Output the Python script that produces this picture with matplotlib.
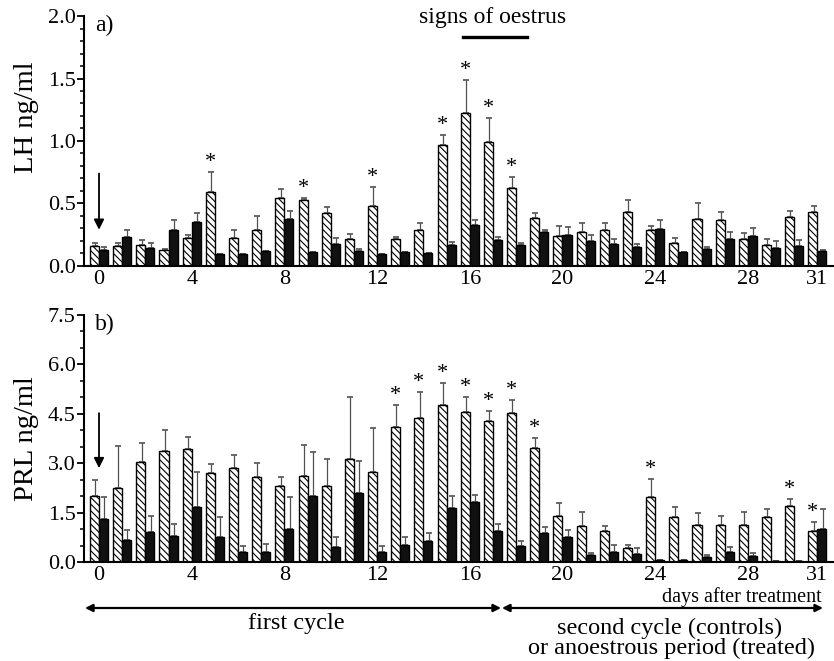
import matplotlib
matplotlib.use("Agg")
import matplotlib.pyplot as plt
from matplotlib.ticker import MultipleLocator, FormatStrFormatter
import numpy as np

plt.rcParams['font.family'] = ['Liberation Serif', 'DejaVu Serif']
plt.rcParams['hatch.linewidth'] = 0.8

days = list(range(32))
xtick_vals = [0, 4, 8, 12, 16, 20, 24, 28, 31]

# LH (ng/ml): hatched = controls, black = treated
lh_ctrl = [0.157, 0.157, 0.17, 0.13, 0.225, 0.595, 0.225, 0.285, 0.547, 0.525, 0.42, 0.216,
           0.483, 0.216, 0.285, 0.97, 1.22, 0.99, 0.627, 0.387, 0.237, 0.27, 0.285, 0.43,
           0.285, 0.187, 0.376, 0.365, 0.216, 0.165, 0.39, 0.43]
lh_ctrl_sem = [0.023, 0.023, 0.035, 0.005, 0.025, 0.155, 0.06, 0.115, 0.068, 0.022, 0.055, 0.037,
               0.149, 0.014, 0.059, 0.08, 0.27, 0.197, 0.085, 0.04, 0.086, 0.077, 0.062, 0.095,
               0.038, 0.033, 0.124, 0.07, 0.048, 0.051, 0.053, 0.047]
lh_trt = [0.125, 0.23, 0.147, 0.285, 0.35, 0.093, 0.093, 0.12, 0.375, 0.11, 0.173, 0.12,
          0.093, 0.11, 0.1, 0.165, 0.325, 0.205, 0.165, 0.27, 0.245, 0.2, 0.176, 0.15,
          0.296, 0.11, 0.136, 0.216, 0.24, 0.147, 0.157, 0.117]
lh_trt_sem = [0.025, 0.055, 0.033, 0.08, 0.07, 0.0, 0.0, 0.0, 0.065, 0.0, 0.047, 0.016,
              0.0, 0.0, 0.0, 0.03, 0.04, 0.027, 0.019, 0.02, 0.067, 0.045, 0.04, 0.023,
              0.069, 0.0, 0.016, 0.059, 0.064, 0.05, 0.048, 0.013]
lh_star_days = [5, 9, 12, 15, 16, 17, 18]

# PRL (ng/ml)
prl_ctrl = [2.00, 2.25, 3.03, 3.37, 3.42, 2.71, 2.84, 2.59, 2.32, 2.61, 2.31, 3.14,
            2.72, 4.11, 4.36, 4.77, 4.56, 4.27, 4.51, 3.45, 1.41, 1.10, 0.94, 0.41,
            1.96, 1.36, 1.13, 1.13, 1.12, 1.38, 1.70, 0.94]
prl_ctrl_sem = [0.48, 1.27, 0.59, 0.63, 0.39, 0.26, 0.40, 0.41, 0.27, 0.94, 0.82, 1.86,
                1.34, 0.67, 0.80, 0.66, 0.45, 0.33, 0.40, 0.31, 0.39, 0.41, 0.15, 0.11,
                0.56, 0.30, 0.35, 0.28, 0.39, 0.22, 0.21, 0.26]
prl_trt = [1.32, 0.67, 0.92, 0.79, 1.67, 0.76, 0.29, 0.30, 1.01, 2.00, 0.47, 2.09,
           0.30, 0.51, 0.64, 1.63, 1.82, 0.94, 0.49, 0.87, 0.75, 0.20, 0.29, 0.23,
           0.05, 0.05, 0.16, 0.29, 0.18, 0.04, 0.04, 0.99]
prl_trt_sem = [0.66, 0.30, 0.47, 0.36, 1.07, 0.60, 0.20, 0.24, 0.95, 1.33, 0.30, 0.99,
               0.19, 0.26, 0.25, 0.38, 0.21, 0.22, 0.14, 0.20, 0.23, 0.08, 0.24, 0.18,
               0.0, 0.0, 0.04, 0.18, 0.08, 0.0, 0.0, 0.61]
prl_star_days = [13, 14, 15, 16, 17, 18, 19, 24, 30, 31]

W, H = 834, 661
fig = plt.figure(figsize=(W / 100, H / 100), dpi=100)

def fx(px):
    return px / W

def fy(py):
    return 1 - py / H

ax_a = fig.add_axes([fx(84), fy(266), fx(834) - fx(84) - 0.001, (266 - 16) / H])
ax_b = fig.add_axes([fx(84), fy(562), fx(834) - fx(84) - 0.001, (562 - 315) / H])

bw = 0.39
hatch = '\\\\\\\\\\'

def draw_panel(ax, ctrl, csem, trt, tsem, stars, ymax, major, minor, ylabel, tag,
               arrow_top, arrow_tip, ylabel_y):
    x = np.array(days, dtype=float)
    ax.bar(x - bw / 2, ctrl, width=bw, color='white', edgecolor='black',
           linewidth=1.0, hatch=hatch, zorder=2)
    ax.bar(x + bw / 2, trt, width=bw, color='#111111', edgecolor='black',
           linewidth=1.0, zorder=2)
    ax.errorbar(x - bw / 2 + 0.03, ctrl, yerr=[np.zeros(len(ctrl)), csem], fmt='none',
                ecolor='#505050', elinewidth=0.9, capsize=2.2, capthick=1.2, zorder=1)
    ax.errorbar(x + bw / 2 + 0.03, trt, yerr=[np.zeros(len(trt)), tsem], fmt='none',
                ecolor='#505050', elinewidth=0.9, capsize=2.2, capthick=1.2, zorder=1)
    for d in stars:
        top = ctrl[d] + csem[d]
        ax.annotate('*', (d - bw / 2, top), xytext=(0, 0), textcoords='offset points',
                    ha='center', va='bottom', fontsize=16)
    ax.set_xlim(-0.647, 31.68)
    ax.set_ylim(0, ymax)
    ax.yaxis.set_major_locator(MultipleLocator(major))
    ax.yaxis.set_minor_locator(MultipleLocator(minor))
    ax.yaxis.set_major_formatter(FormatStrFormatter('%.1f'))
    ax.set_xticks(xtick_vals)
    ax.tick_params(axis='y', which='major', direction='out', length=5, width=1.3,
                   labelsize=16, pad=1)
    ax.tick_params(axis='y', which='minor', direction='out', length=3, width=1.1)
    ax.tick_params(axis='x', which='major', length=0, labelsize=16, pad=3)
    for s in ['top', 'right']:
        ax.spines[s].set_visible(False)
    for s in ['left', 'bottom']:
        ax.spines[s].set_linewidth(1.5)
    ax.text(-0.17, 0.962 * ymax, tag, fontsize=17, ha='left', va='center')
    ax.annotate('', xy=(0, arrow_tip), xytext=(0, arrow_top),
                arrowprops=dict(arrowstyle='-|>', color='black', lw=1.3,
                                mutation_scale=15, shrinkA=0, shrinkB=0))
    ax.set_ylabel(ylabel, fontsize=20.5)
    ax.yaxis.set_label_coords(-0.060, ylabel_y)

draw_panel(ax_a, lh_ctrl, lh_ctrl_sem, lh_trt, lh_trt_sem, lh_star_days,
           2.0, 0.5, 0.1, 'LH ng/ml', 'a)', 0.74, 0.29, 0.596)
draw_panel(ax_b, prl_ctrl, prl_ctrl_sem, prl_trt, prl_trt_sem, prl_star_days,
           7.5, 1.5, 0.5, 'PRL ng/ml', 'b)', 4.52, 2.85, 0.5)

# signs of oestrus
fig.text(fx(493), fy(17), 'signs of oestrus', fontsize=17, ha='center', va='center')
fig.add_artist(plt.Line2D([fx(463), fx(527)], [fy(37), fy(37)], color='black', lw=2.4))

# bottom annotations
fig.text(fx(822), fy(597), 'days after treatment', fontsize=14.5, ha='right', va='center')
arrow_kw = dict(arrowstyle='<|-|>', color='black', lw=1.6, mutation_scale=11,
                shrinkA=0, shrinkB=0)
fig.add_artist(matplotlib.patches.FancyArrowPatch((fx(85), fy(608)), (fx(501), fy(608)),
                                                  transform=fig.transFigure, **arrow_kw))
fig.add_artist(matplotlib.patches.FancyArrowPatch((fx(502), fy(608)), (fx(823), fy(608)),
                                                  transform=fig.transFigure, **arrow_kw))
fig.text(fx(296), fy(624), 'first cycle', fontsize=17.5, ha='center', va='center')
fig.text(fx(670), fy(628), 'second cycle (controls)', fontsize=17.5, ha='center', va='center')
fig.text(fx(671), fy(648), 'or anoestrous period (treated)', fontsize=17.5,
         ha='center', va='center')

fig.savefig('out.png', dpi=100)
